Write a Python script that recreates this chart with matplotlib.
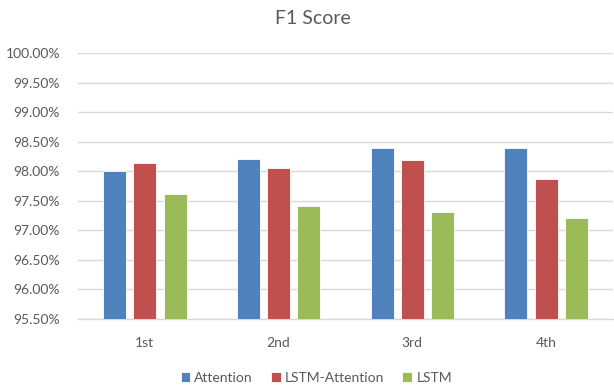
import matplotlib
matplotlib.use("Agg")
import matplotlib.pyplot as plt
import numpy as np
from matplotlib.ticker import FuncFormatter, MultipleLocator

categories = ["1st", "2nd", "3rd", "4th"]
series_names = ["Attention", "LSTM-Attention", "LSTM"]
attention = [98.00, 98.21, 98.40, 98.40]
lstm_attention = [98.14, 98.05, 98.19, 97.87]
lstm = [97.62, 97.41, 97.31, 97.21]
colors = ["#4F81BD", "#C0504D", "#9BBB59"]

plt.rcParams['font.family'] = ['Lato', 'DejaVu Sans']
text_color = "#595959"

fig = plt.figure(figsize=(6.14, 3.88), dpi=100)
ax = fig.add_axes([78/614, 1-319/388, 535/614, (319-53)/388])

x = np.arange(len(categories))
width = 0.172
step = 0.227
for i, (vals, name, c) in enumerate(zip([attention, lstm_attention, lstm], series_names, colors)):
    ax.bar(x + (i-1)*step, vals, width, bottom=0, color=c, edgecolor="#FFFFFF", linewidth=0.6,
           label=name, zorder=3)

ax.set_ylim(95.5, 100.0)
ax.set_xlim(-0.5, 3.5)
ax.yaxis.set_major_locator(MultipleLocator(0.5))
ax.yaxis.set_major_formatter(FuncFormatter(lambda v, p: f"{v:.2f}%"))
ax.set_xticks(x)
ax.set_xticklabels(categories)
ax.grid(axis='y', color="#D9D9D9", linewidth=1.0, zorder=0)
for s in ["top", "right", "left"]:
    ax.spines[s].set_visible(False)
ax.spines["bottom"].set_color("#D9D9D9")
ax.spines["bottom"].set_linewidth(1.0)
ax.tick_params(axis='both', length=0, labelsize=10, colors=text_color)
ax.tick_params(axis='y', pad=13)
ax.tick_params(axis='x', pad=13)

fig.text(0.51, 1-18/388, "F1 Score", ha='center', va='center', fontsize=14, color=text_color)

leg = fig.legend(loc='center', bbox_to_anchor=(0.515, 1-378/388), ncol=3, frameon=False,
                 fontsize=10, handlelength=0.7, handleheight=0.7, handletextpad=0.3,
                 columnspacing=1.3, borderpad=0)
for t in leg.get_texts():
    t.set_color(text_color)

fig.savefig("out.png", dpi=100)
